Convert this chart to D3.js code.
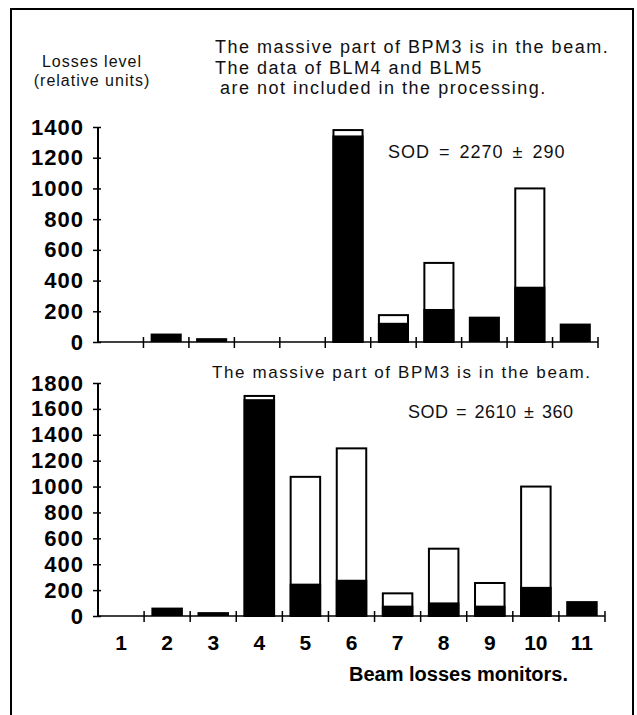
<!DOCTYPE html>
<html>
<head>
<meta charset="utf-8">
<script src="https://cdn.jsdelivr.net/npm/d3@7"></script>
<style>
  body { margin: 0; background: #fff; }
  svg { display: block; }
  .note { font-family: "Liberation Sans", Arial, sans-serif; font-size: 18px; fill: #111; letter-spacing: 1.5px; }
  .tick-label { font-family: "Liberation Sans", Arial, sans-serif; font-size: 22px; font-weight: bold; fill: #000; }
</style>
</head>
<body>
<div id="chart"></div>
<script>
// monitors along the x axis
var monitors = ["1", "2", "3", "4", "5", "6", "7", "8", "9", "10", "11"];

// upper panel: black part and full bar height
var topBlack = [0, 55, 25, 0, 0, 1345, 125, 215, 165, 360, 120];
var topTotal = [0, 55, 25, 0, 0, 1380, 175, 515, 165, 1000, 120];
var topTicks = [0, 200, 400, 600, 800, 1000, 1200, 1400];

// lower panel
var botBlack = [0, 65, 30, 1675, 250, 280, 80, 105, 80, 225, 115];
var botTotal = [0, 65, 30, 1700, 1075, 1295, 175, 520, 255, 1000, 115];
var botTicks = [0, 200, 400, 600, 800, 1000, 1200, 1400, 1600, 1800];

var width = 637, height = 715;

var svg = d3.select("#chart").append("svg")
    .attr("width", width)
    .attr("height", height);

// frame round the figure (open at the bottom)
svg.append("path")
    .attr("d", "M11,715 L11,9 L633,9 L633,715")
    .attr("fill", "none")
    .attr("stroke", "#000")
    .attr("stroke-width", 2);

// draws one panel of stacked bars
function drawPanel(opts) {
  var x = d3.scaleBand()
      .domain(monitors)
      .range(opts.xRange)
      .paddingInner(0.36)
      .paddingOuter(0.18);

  var y = d3.scaleLinear()
      .domain([0, opts.max])
      .range(opts.yRange);

  var g = svg.append("g");

  var rows = monitors.map(function(m, i) {
    return { name: m, black: opts.black[i], total: opts.total[i] };
  });

  // white (outlined) part = full height
  g.selectAll("rect.total")
      .data(rows.filter(function(d) { return d.total > d.black; }))
    .enter().append("rect")
      .attr("class", "total")
      .attr("x", function(d) { return x(d.name); })
      .attr("y", function(d) { return y(d.total); })
      .attr("width", x.bandwidth())
      .attr("height", function(d) { return y(0) - y(d.total); })
      .attr("fill", "#fff")
      .attr("stroke", "#000")
      .attr("stroke-width", 2);

  // black part
  g.selectAll("rect.black")
      .data(rows.filter(function(d) { return d.black > 0; }))
    .enter().append("rect")
      .attr("class", "black")
      .attr("x", function(d) { return x(d.name) - 1; })
      .attr("y", function(d) { return y(d.black); })
      .attr("width", x.bandwidth() + 2)
      .attr("height", function(d) { return y(0) - y(d.black); })
      .attr("fill", "#000");

  // y axis with crossing ticks
  var yAxis = g.append("g")
      .attr("transform", "translate(" + opts.xRange[0] + ",0)")
      .call(d3.axisLeft(y).tickValues(opts.ticks).tickFormat(d3.format("d"))
        .tickSize(5).tickPadding(9));
  yAxis.select(".domain").attr("stroke-width", 2).attr("d",
      "M0," + y(0) + "V" + y(opts.max));
  yAxis.selectAll(".tick line").attr("x2", -5).attr("x1", 3).attr("stroke-width", 1.5);
  yAxis.selectAll(".tick text")
      .attr("class", "tick-label")
      .attr("font-family", null)
      .attr("font-size", null)
      .style("letter-spacing", "1px");

  // x axis: baseline and ticks at the bar boundaries
  var step = x.step();
  var bounds = monitors.map(function(m) {
    return x(m) + x.bandwidth() + (step - x.bandwidth()) / 2;
  });
  g.append("line")
      .attr("x1", opts.xRange[0]).attr("x2", opts.xRange[1])
      .attr("y1", y(0)).attr("y2", y(0))
      .attr("stroke", "#000").attr("stroke-width", 1.5);
  g.selectAll("line.xtick")
      .data(bounds)
    .enter().append("line")
      .attr("class", "xtick")
      .attr("x1", function(d) { return d; })
      .attr("x2", function(d) { return d; })
      .attr("y1", y(0) - 5)
      .attr("y2", y(0) + 6)
      .attr("stroke", "#000")
      .attr("stroke-width", 1.5);

  return { x: x, y: y, g: g };
}

var top = drawPanel({
  xRange: [98, 598], yRange: [342, 127], max: 1400,
  black: topBlack, total: topTotal, ticks: topTicks
});

var bottom = drawPanel({
  xRange: [98, 605], yRange: [616, 383], max: 1800,
  black: botBlack, total: botTotal, ticks: botTicks
});

// x labels under the lower panel
bottom.g.selectAll("text.xlab")
    .data(monitors)
  .enter().append("text")
    .attr("class", "tick-label")
    .attr("x", function(d) { return bottom.x(d) + bottom.x.bandwidth() / 2; })
    .attr("y", 650)
    .attr("text-anchor", "middle")
    .style("font-size", "21px")
    .text(function(d) { return d; });

svg.append("text")
    .attr("class", "tick-label")
    .attr("x", 568)
    .attr("y", 681)
    .attr("text-anchor", "end")
    .style("font-size", "20px")
    .text("Beam losses monitors.");

// y axis title
svg.append("text").attr("class", "note")
    .attr("x", 92).attr("y", 67)
    .attr("text-anchor", "middle")
    .style("font-size", "16px")
    .style("letter-spacing", "1px")
    .text("Losses level");
svg.append("text").attr("class", "note")
    .attr("x", 92).attr("y", 86)
    .attr("text-anchor", "middle")
    .style("font-size", "16px")
    .style("letter-spacing", "1px")
    .text("(relative units)");

// notes in the upper panel
svg.append("text").attr("class", "note").attr("x", 215).attr("y", 53)
    .text("The massive part of BPM3 is in the beam.");
svg.append("text").attr("class", "note").attr("x", 215).attr("y", 74)
    .text("The data of BLM4 and BLM5");
svg.append("text").attr("class", "note").attr("x", 220).attr("y", 94)
    .text("are not included in the processing.");
svg.append("text").attr("class", "note").attr("x", 388).attr("y", 158)
    .style("letter-spacing", "1px")
    .style("word-spacing", "3px")
    .text("SOD = 2270 \u00b1 290");

// notes in the lower panel
svg.append("text").attr("class", "note").attr("x", 212).attr("y", 378)
    .style("font-size", "17px")
    .style("letter-spacing", "1.6px")
    .text("The massive part of BPM3 is in the beam.");
svg.append("text").attr("class", "note").attr("x", 408).attr("y", 418)
    .style("letter-spacing", "0.5px")
    .style("word-spacing", "2px")
    .text("SOD = 2610 \u00b1 360");
</script>
</body>
</html>
